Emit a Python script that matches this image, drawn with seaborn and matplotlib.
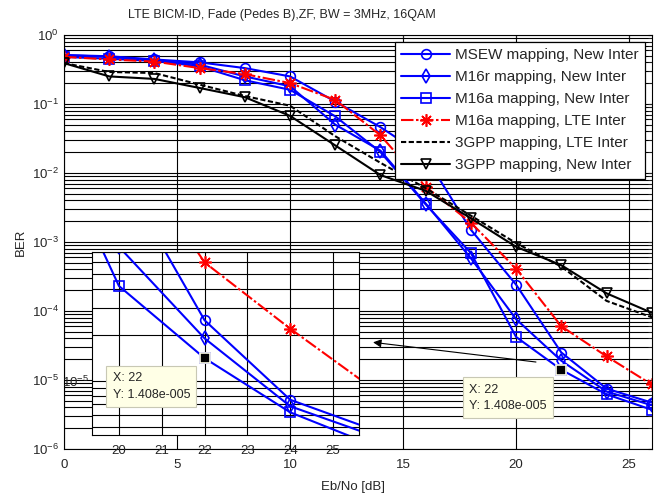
import matplotlib
matplotlib.use("Agg")
import matplotlib.pyplot as plt
import matplotlib.ticker as mticker
import seaborn as sns
import numpy as np

# Eb/No points [dB]
ebno = [0, 2, 4, 6, 8, 10, 12, 14, 16, 18, 20, 22, 24, 26]

# BER per mapping / interleaver
msew_new = [0.51, 0.49, 0.44, 0.40, 0.33, 0.25, 0.108, 0.046, 0.017, 1.5e-3, 2.4e-4, 2.5e-5, 7.5e-6, 4.7e-6]
m16r_new = [0.51, 0.48, 0.43, 0.37, 0.25, 0.18, 0.050, 0.021, 0.0036, 5.8e-4, 7.6e-5, 1.9e-5, 6.8e-6, 4.3e-6]
m16a_new = [0.48, 0.45, 0.42, 0.35, 0.22, 0.16, 0.066, 0.020, 0.0035, 6.9e-4, 4.2e-5, 1.408e-5, 6.2e-6, 3.7e-6]
m16a_lte = [0.48, 0.44, 0.41, 0.33, 0.27, 0.20, 0.114, 0.035, 0.0063, 1.9e-3, 4.1e-4, 6.0e-5, 2.2e-5, 8.6e-6]
gpp_lte = [0.39, 0.29, 0.28, 0.19, 0.13, 0.094, 0.034, 0.014, 0.0060, 2.4e-3, 9.6e-4, 4.4e-4, 1.4e-4, 8.1e-5]
gpp_new = [0.39, 0.25, 0.23, 0.17, 0.125, 0.067, 0.025, 0.0093, 0.0055, 2.2e-3, 8.5e-4, 4.6e-4, 1.8e-4, 9.4e-5]

labels = ["MSEW mapping, New Inter", "M16r mapping, New Inter", "M16a mapping, New Inter",
          "M16a mapping, LTE Inter", "3GPP mapping, LTE Inter", "3GPP mapping, New Inter"]

main_yticks = [1e-6, 1e-5, 1e-4, 1e-3, 1e-2, 1e-1, 1]
inset_xticks = [20, 21, 22, 23, 24, 25]
inset_yticks = [1e-5]

# data tip point
tip_x = 22
tip_y = 1.408e-5

sns.set_style("white")
plt.rcParams["font.family"] = ["Liberation Sans", "DejaVu Sans"]
plt.rcParams["xtick.direction"] = "in"
plt.rcParams["ytick.direction"] = "in"

series = [
    (msew_new, dict(color="blue", marker="o", linestyle="-", ms=7)),
    (m16r_new, dict(color="blue", marker="d", linestyle="-", ms=7)),
    (m16a_new, dict(color="blue", marker="s", linestyle="-", ms=7)),
    (m16a_lte, dict(color="red", marker=(8, 2, 0), linestyle=(0, (6, 1.2, 1.2, 1.2)), ms=9)),
    (gpp_lte, dict(color="black", marker=None, linestyle=(0, (2.5, 1.2)), ms=7)),
    (gpp_new, dict(color="black", marker="v", linestyle="-", ms=7)),
]


def draw_curves(ax, with_labels):
    for (vals, st), lab in zip(series, labels):
        sns.lineplot(x=ebno, y=vals, ax=ax, color=st["color"], marker=st["marker"],
                     linestyle=st["linestyle"], linewidth=1.5, markersize=st["ms"],
                     markerfacecolor="none", markeredgecolor=st["color"],
                     markeredgewidth=1.2, label=lab if with_labels else None,
                     legend=False)


def grid_style(ax):
    ax.grid(True, which="major", color="black", linewidth=0.8)
    ax.grid(True, which="minor", axis="y", color="black", linewidth=0.8)
    for s in ax.spines.values():
        s.set_color("black")
        s.set_linewidth(0.8)


fig = plt.figure(figsize=(6.57, 4.98), dpi=100)
ax = fig.add_axes([0.0974, 0.0984, 0.8946, 0.8316])

draw_curves(ax, True)
ax.set_yscale("log")
ax.set_xlim(0, 26)
ax.set_ylim(1e-6, 1)
ax.set_xticks([0, 5, 10, 15, 20, 25])
ax.set_yticks(main_yticks)
ax.yaxis.set_major_formatter(mticker.LogFormatterSciNotation())
ax.yaxis.set_minor_locator(mticker.LogLocator(base=10, subs=np.arange(2, 10), numticks=10))
ax.yaxis.set_minor_formatter(mticker.NullFormatter())
ax.tick_params(labelsize=9.5, length=3, top=True, right=True, which="both")
ax.tick_params(axis="x", pad=7)
grid_style(ax)

ax.set_title("LTE BICM-ID, Fade (Pedes B),ZF, BW = 3MHz, 16QAM", fontsize=9, pad=12, x=0.37)
ax.set_xlabel("Eb/No [dB]", fontsize=9.5)
ax.xaxis.set_label_coords(0.492, -0.078)
ax.set_ylabel("BER", fontsize=9.5, labelpad=4)

leg = ax.legend(loc="upper right", bbox_to_anchor=(0.988, 0.983), borderaxespad=0,
                fontsize=11, handlelength=3.2, labelspacing=0.53, handletextpad=0.3,
                borderpad=0.4, fancybox=False, framealpha=1, edgecolor="black")
leg.get_frame().set_linewidth(0.9)

tip_box = dict(boxstyle="square,pad=0.5", facecolor="#ffffe6", edgecolor="#c8c8b4", linewidth=0.8)

# data tip on main axes
ax.plot([tip_x], [tip_y], marker="s", color="black", markersize=7,
        markeredgecolor="#ffffe6", markeredgewidth=1.2, zorder=6)
ax.annotate("X: 22\nY: 1.408e-005", xy=(tip_x, tip_y), xytext=(-92, -14),
            textcoords="offset pixels", ha="left", va="top", fontsize=9,
            linespacing=1.5, bbox=tip_box, zorder=7)

# arrow pointing to the zoomed inset
ax.annotate("", xy=(13.55, 3.55e-5), xytext=(21.0, 1.8e-5),
            arrowprops=dict(arrowstyle="-|>", color="black", lw=0.8, mutation_scale=12))

# zoomed inset
axin = fig.add_axes([0.140, 0.1265, 0.406, 0.367])
axin.set_facecolor("white")
draw_curves(axin, False)
axin.set_yscale("log")
axin.set_xlim(19.37, 25.6)
axin.set_ylim(4.4e-6, 7.0e-5)
axin.set_xticks(inset_xticks)
axin.set_yticks(inset_yticks)
axin.yaxis.set_major_formatter(mticker.LogFormatterSciNotation())
axin.yaxis.set_minor_locator(mticker.LogLocator(base=10, subs=np.arange(2, 10), numticks=10))
axin.yaxis.set_minor_formatter(mticker.NullFormatter())
axin.tick_params(labelsize=9.5, length=3, pad=2, which="both")
axin.tick_params(axis="x", pad=7)
grid_style(axin)

axin.plot([tip_x], [tip_y], marker="s", color="black", markersize=7,
          markeredgecolor="#ffffe6", markeredgewidth=1.2, zorder=6)
axin.annotate("X: 22\nY: 1.408e-005", xy=(tip_x, tip_y), xytext=(-92, -14),
              textcoords="offset pixels", ha="left", va="top", fontsize=9,
              linespacing=1.5, bbox=tip_box, zorder=7, annotation_clip=False)

fig.savefig("out.png", dpi=100)
